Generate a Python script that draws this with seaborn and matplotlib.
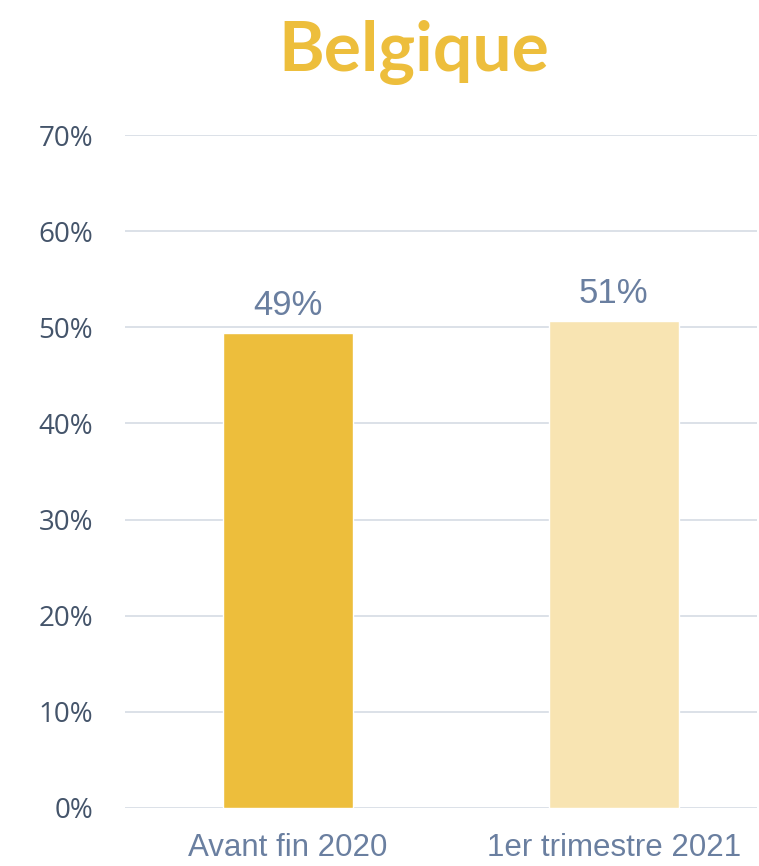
import matplotlib
matplotlib.use("Agg")
import matplotlib.pyplot as plt
import seaborn as sns
import pandas as pd
from matplotlib.ticker import PercentFormatter

# Data
categories = ["Avant fin 2020", "1er trimestre 2021"]
values = [0.494, 0.507]
labels = ["49%", "51%"]
bar_colors = ["#EDBE3C", "#F8E4B2"]

df = pd.DataFrame({"periode": categories, "part": values})

sns.set_style("white")

fig = plt.figure(figsize=(7.59, 8.66), dpi=100)
ax = fig.add_axes([0.1647, 0.067, 0.8327, 0.777])

sns.barplot(data=df, x="periode", y="part", hue="periode", palette=bar_colors,
            width=0.4, legend=False, ax=ax, saturation=1)

ax.set_ylim(0, 0.7)
ax.set_xlim(-0.5, 1.44)
ax.set_yticks([i / 10 for i in range(8)])
ax.yaxis.set_major_formatter(PercentFormatter(1.0, decimals=0))
ax.grid(axis="y", color="#D9DEE6", linewidth=1.3)
ax.set_axisbelow(True)
sns.despine(ax=ax, left=True, bottom=True)
ax.set_xlabel("")
ax.set_ylabel("")

ax.tick_params(axis="y", length=0, pad=23, labelsize=20, labelcolor="#44546A")
ax.tick_params(axis="x", length=0, pad=18, labelsize=22.5, labelcolor="#6A7FA0")
for t in ax.get_yticklabels():
    t.set_fontfamily(["Open Sans", "DejaVu Sans"])
for t in ax.get_xticklabels():
    t.set_fontfamily(["Liberation Sans", "DejaVu Sans"])

# value labels
for i, (v, lab) in enumerate(zip(values, labels)):
    ax.annotate(lab, (i, v), xytext=(0, 13), textcoords="offset points",
                ha="center", va="baseline", fontsize=25, color="#6A7FA0",
                family=["Liberation Sans", "DejaVu Sans"])

fig.text(0.545, 0.918, "Belgique", ha="center", va="baseline",
         fontsize=50, fontweight="bold", color="#EDBE3C",
         family=["Lato", "DejaVu Sans"])

fig.savefig("out.png", dpi=100)
